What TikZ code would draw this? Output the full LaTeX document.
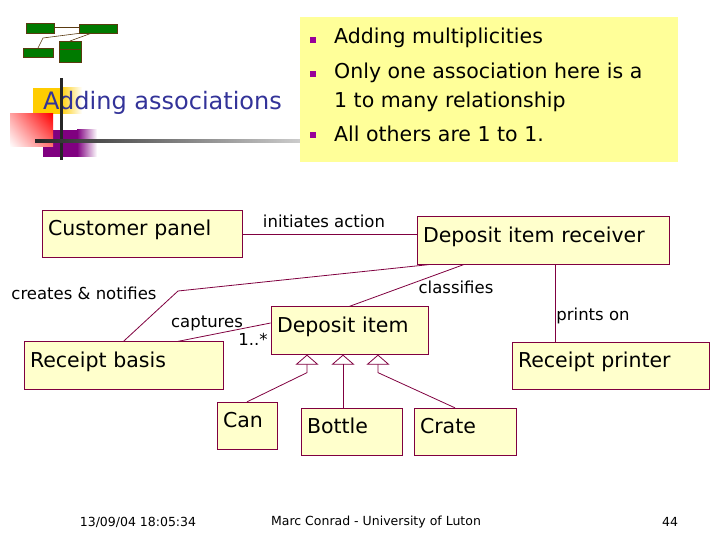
\documentclass[tikz,border=0pt]{standalone}
\usepackage{fontspec}
\setmainfont{DejaVu Sans}
\usepackage{tikz}
\usetikzlibrary{arrows.meta,calc,shadings}
\definecolor{UMLLine}{HTML}{800040}
\definecolor{UMLFill}{HTML}{FFFFCC}
\definecolor{NoteFill}{HTML}{FFFF99}
\definecolor{TitleBlue}{HTML}{333399}
\definecolor{BulletPurple}{HTML}{990099}
\definecolor{LogoGreen}{HTML}{007A00}
\definecolor{LogoLine}{HTML}{5A3A10}
\definecolor{DecoGold}{HTML}{FFCC00}
\definecolor{DecoPurple}{HTML}{800080}

\begin{document}
\begin{tikzpicture}[
  x=1pt, y=-1pt,
  cls/.style={draw=UMLLine, fill=UMLFill, line width=0.8pt, align=left, inner xsep=6pt, inner ysep=0pt,
    minimum height=47.5pt, text height=15pt, text depth=12pt, font=\fontsize{20.5}{24}\selectfont},
  assoc/.style={draw=UMLLine, line width=0.8pt},
  gen/.style={draw=UMLLine, line width=0.8pt, -{Triangle[open, length=10pt, width=23pt]}},
  rolelabel/.style={inner sep=0pt, font=\fontsize{16.5}{19}\selectfont},
  bullettext/.style={anchor=base west, inner sep=0pt, font=\fontsize{20.5}{24}\selectfont},
  bulletmark/.style={fill=BulletPurple, minimum size=6pt, inner sep=0pt},
  footer/.style={inner sep=0pt, font=\fontsize{12.5}{15}\selectfont},
  logobox/.style={fill=LogoGreen, draw=LogoLine, line width=0.5pt},
]
\useasboundingbox (0,0) rectangle (720,540);
\fill[white] (0,0) rectangle (720,540);
% logo
\draw[LogoLine, line width=0.6pt] (54,27) -- (79,27);
\draw[LogoLine, line width=0.6pt] (82,33) -- (43,38) -- (38,48);
\draw[LogoLine, line width=0.6pt] (92,33) -- (70,41);
\draw[logobox] (26,23) rectangle (54,33);
\draw[logobox] (79,24) rectangle (117,33);
\draw[logobox] (23,48) rectangle (53,57);
\draw[logobox] (59,41) rectangle (81,62);
\draw[LogoLine, line width=0.5pt] (59,49) -- (81,49);
% title decoration
\fill[DecoGold] (33,88) rectangle (60,114);
\shade[left color=DecoGold, right color=white] (60,88) rectangle (82,114);
\fill[DecoPurple] (43,130) rectangle (77,157);
\shade[left color=DecoPurple, right color=white] (77,130) rectangle (97,157);
\shade[upper right=red, upper left=red!35, lower right=red!55, lower left=white] (10,114) rectangle (53,147);
\node[anchor=base west, inner sep=0pt, text=TitleBlue, font=\fontsize{24}{28}\selectfont] (title) at (43,110) {Adding associations};
\fill[black!85] (59.5,78) rectangle (62.5,160);
\shade[left color=black!85, right color=black!20] (35,139.5) rectangle (300,142.5);
% notes
\fill[NoteFill] (300,17) rectangle (678,162);
\node[bulletmark] (b1) at (312.5,40) {};
\node[bulletmark] (b2) at (312.5,74.5) {};
\node[bulletmark] (b3) at (312.5,135.5) {};
\node[bullettext] (n1) at (334,44) {Adding multiplicities};
\node[bullettext] (n2) at (334,79) {Only one association here is a};
\node[bullettext] (n3) at (334,108) {1 to many relationship};
\node[bullettext] (n4) at (334,142) {All others are 1 to 1.};
% classes
\node[cls, text width=188pt] (cust) at (142,234) {Customer panel};
\node[cls, text width=240pt] (recv) at (543,240.5) {Deposit item receiver};
\node[cls, text width=187pt] (basis) at (123.5,365.5) {Receipt basis};
\node[cls, text width=145pt] (item) at (349.5,330.5) {Deposit item};
\node[cls, text width=185pt] (printer) at (610.5,366) {Receipt printer};
\node[cls, text width=48pt] (can) at (247,426) {Can};
\node[cls, text width=89pt] (bottle) at (351.5,432) {Bottle};
\node[cls, text width=90pt] (crate) at (465,432) {Crate};
% associations
\coordinate (notify) at (178,291);
\draw[assoc] (cust.east) -- (cust.east -| recv.west);
\draw[assoc] ([xshift=12pt]recv.south west) -- (notify) -- (basis.north);
\draw[assoc] ([xshift=47pt]recv.south west) -- (item.north);
\draw[assoc] ([xshift=12pt]recv.south) -- ([xshift=12pt]recv.south |- printer.north);
\draw[assoc] ([xshift=54.5pt]basis.north) -- ([yshift=7.5pt]item.west);
\node[rolelabel] (initiates) at (324,221) {initiates action};
\node[rolelabel] (notifies) at (84,293) {creates \& notifies};
\node[rolelabel] (classifies) at (456,287) {classifies};
\node[rolelabel] (printson) at (593,316) {prints on};
\node[rolelabel] (captures) at (207,323) {captures};
\node[rolelabel] (mult) at (253,339) {1..*};
% generalisation
\coordinate (g1) at ([xshift=-42.5pt]item.south);
\coordinate (g2) at ([xshift=-6.5pt]item.south);
\coordinate (g3) at ([xshift=28.5pt]item.south);
\draw[gen] (can.north) -- ([yshift=-18pt]g1) -- (g1);
\draw[gen] (g2 |- bottle.north) -- (g2);
\draw[gen] ([xshift=-10pt]crate.north) -- ([yshift=-18pt]g3) -- (g3);
% footer
\node[footer] (date) at (138,522) {13/09/04 18:05:34};
\node[footer] (author) at (376,522) {Marc Conrad - University of Luton};
\node[footer] (page) at (670,522) {44};
\end{tikzpicture}
\end{document}
